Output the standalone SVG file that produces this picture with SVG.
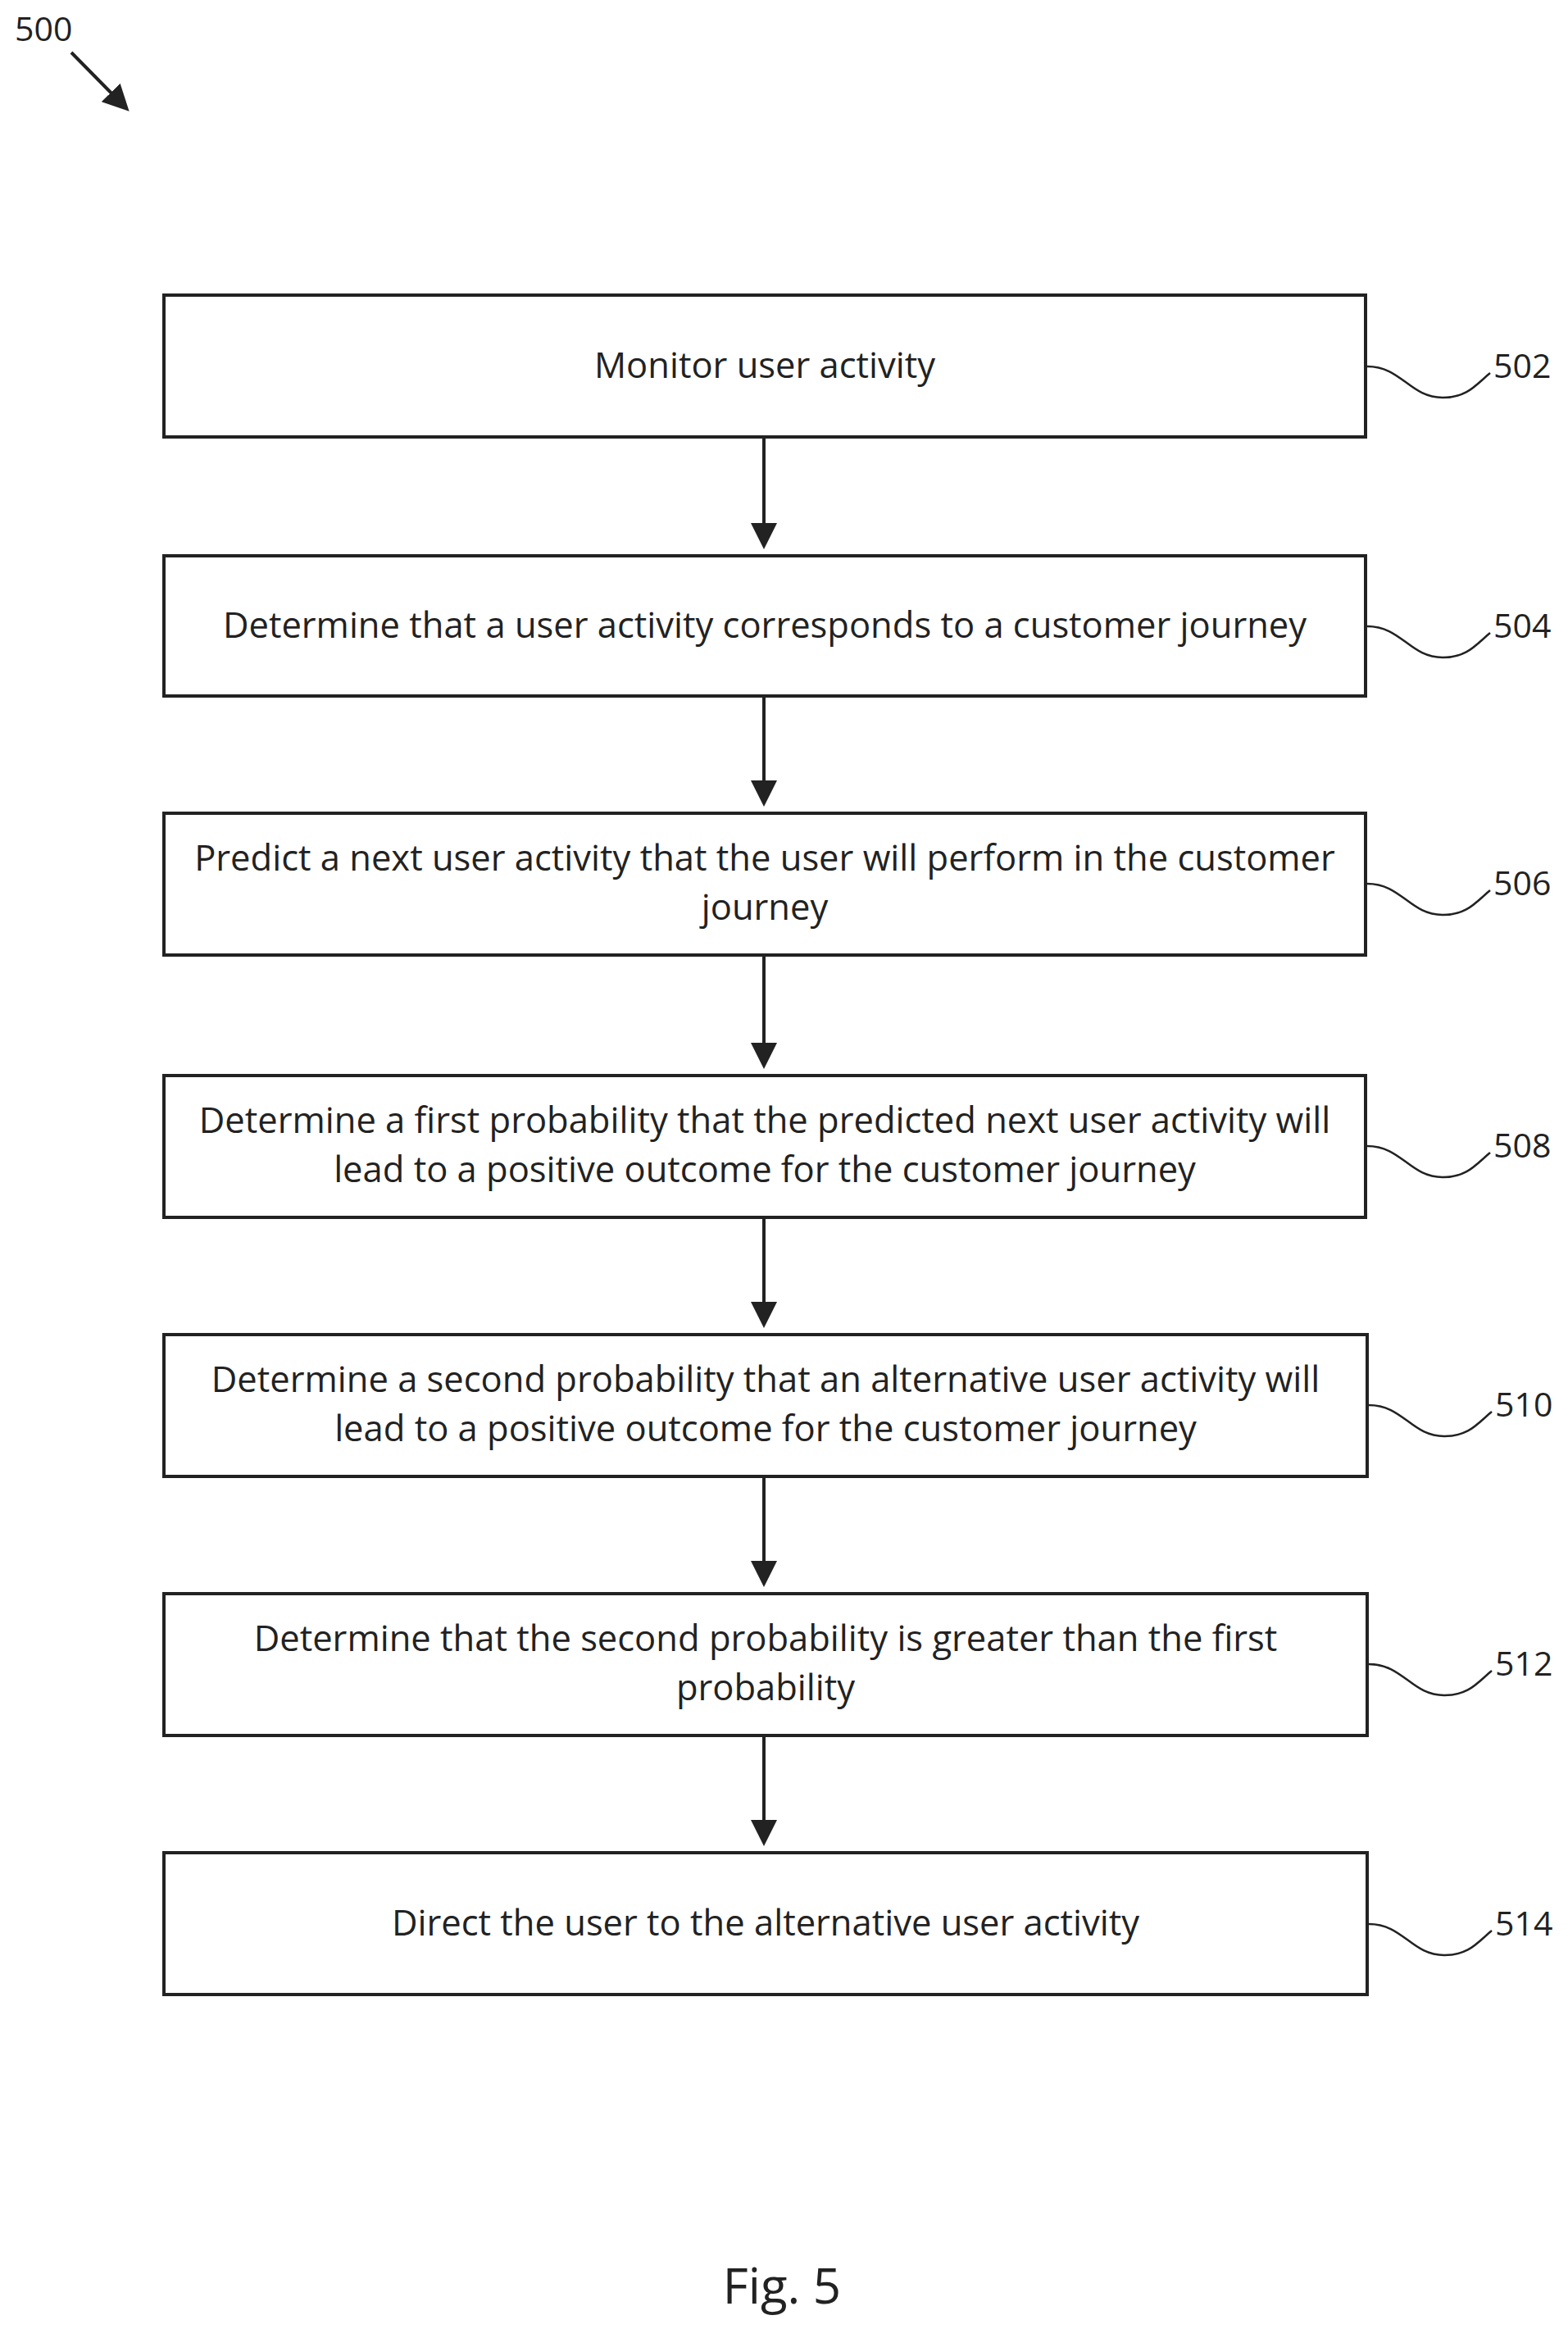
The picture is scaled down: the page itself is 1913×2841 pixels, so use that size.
<svg xmlns="http://www.w3.org/2000/svg" width="1913" height="2841" viewBox="0 0 1913 2841">
<style>
.b{fill:#fff;stroke:#222;stroke-width:4}
.t{font-family:"Open Sans","Liberation Sans",sans-serif;font-size:43.5px;fill:#222;text-anchor:middle}
.l{font-family:"Open Sans","Liberation Sans",sans-serif;font-size:41px;fill:#222}
.c{fill:none;stroke:#222;stroke-width:4}
.s{fill:none;stroke:#222;stroke-width:2.5}
</style>
<defs><marker id="a" markerWidth="8" markerHeight="8" refX="6" refY="4" orient="auto" markerUnits="strokeWidth"><path d="M0,0L8,4L0,8z" fill="#222"/></marker></defs>
<rect width="1913" height="2841" fill="#fff"/>
<text class="l" x="18" y="50">500</text>
<line class="c" x1="87" y1="64" x2="152" y2="130" marker-end="url(#a)"/>
<g id="connectors">
<line class="c" x1="932" y1="533" x2="932" y2="662" marker-end="url(#a)"/>
<line class="c" x1="932" y1="849" x2="932" y2="976" marker-end="url(#a)"/>
<line class="c" x1="932" y1="1165" x2="932" y2="1296" marker-end="url(#a)"/>
<line class="c" x1="932" y1="1485" x2="932" y2="1612" marker-end="url(#a)"/>
<line class="c" x1="932" y1="1801" x2="932" y2="1928" marker-end="url(#a)"/>
<line class="c" x1="932" y1="2117" x2="932" y2="2244" marker-end="url(#a)"/>
</g>
<g id="n502"><rect class="b" x="200" y="360" width="1466" height="173"/><text class="t" x="933" y="461">Monitor user activity</text><path class="s" d="M1668,447 C1710,447 1720,485 1760,485 C1790,485 1800,470 1818,455"/><text class="l" x="1822" y="461">502</text></g>
<g id="n504"><rect class="b" x="200" y="678" width="1466" height="171"/><text class="t" x="933" y="778">Determine that a user activity corresponds to a customer journey</text><path class="s" d="M1668,764 C1710,764 1720,802 1760,802 C1790,802 1800,787 1818,772"/><text class="l" x="1822" y="778">504</text></g>
<g id="n506"><rect class="b" x="200" y="992" width="1466" height="173"/><text class="t" x="933" y="1062">Predict a next user activity that the user will perform in the customer</text><text class="t" x="933" y="1122">journey</text><path class="s" d="M1668,1078 C1710,1078 1720,1116 1760,1116 C1790,1116 1800,1101 1818,1086"/><text class="l" x="1822" y="1092">506</text></g>
<g id="n508"><rect class="b" x="200" y="1312" width="1466" height="173"/><text class="t" x="933" y="1382">Determine a first probability that the predicted next user activity will</text><text class="t" x="933" y="1442">lead to a positive outcome for the customer journey</text><path class="s" d="M1668,1398 C1710,1398 1720,1436 1760,1436 C1790,1436 1800,1421 1818,1406"/><text class="l" x="1822" y="1412">508</text></g>
<g id="n510"><rect class="b" x="200" y="1628" width="1468" height="173"/><text class="t" x="934" y="1698">Determine a second probability that an alternative user activity will</text><text class="t" x="934" y="1758">lead to a positive outcome for the customer journey</text><path class="s" d="M1670,1714 C1712,1714 1722,1752 1762,1752 C1792,1752 1802,1737 1820,1722"/><text class="l" x="1824" y="1728">510</text></g>
<g id="n512"><rect class="b" x="200" y="1944" width="1468" height="173"/><text class="t" x="934" y="2014">Determine that the second probability is greater than the first</text><text class="t" x="934" y="2074">probability</text><path class="s" d="M1670,2030 C1712,2030 1722,2068 1762,2068 C1792,2068 1802,2053 1820,2038"/><text class="l" x="1824" y="2044">512</text></g>
<g id="n514"><rect class="b" x="200" y="2260" width="1468" height="173"/><text class="t" x="934" y="2361">Direct the user to the alternative user activity</text><path class="s" d="M1670,2347 C1712,2347 1722,2385 1762,2385 C1792,2385 1802,2370 1820,2355"/><text class="l" x="1824" y="2361">514</text></g>
<text class="t" x="954" y="2810" style="font-size:60px">Fig. 5</text>
</svg>
